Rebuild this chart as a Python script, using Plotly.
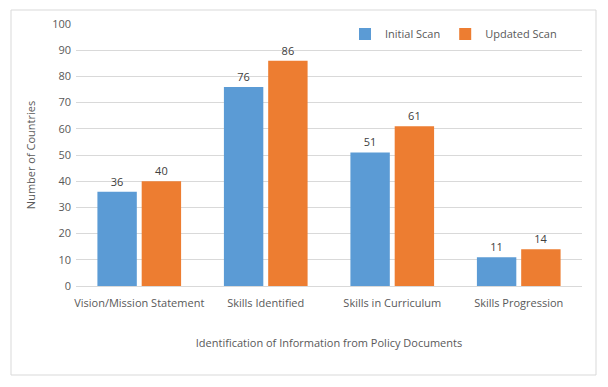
import plotly.graph_objects as go

categories = ["Vision/Mission Statement", "Skills Identified", "Skills in Curriculum", "Skills Progression"]
initial_scan = [36, 76, 51, 11]
updated_scan = [40, 86, 61, 14]
y_ticks = list(range(0, 101, 10))

FONT = "Open Sans"
W, H = 608, 387
L, R, T, B = 76, 26, 24, 101
pw, ph = W - L - R, H - T - B

def px2x(px):
    return (px - L) / pw

def py2y(py):
    return (H - B - py) / ph

fig = go.Figure()
fig.add_trace(go.Bar(name="Initial Scan", x=categories, y=initial_scan,
                     marker=dict(color="#5B9BD5", line=dict(width=0)),
                     text=initial_scan, textposition="outside",
                     textfont=dict(size=11, color="#404040", family=FONT), cliponaxis=False))
fig.add_trace(go.Bar(name="Updated Scan", x=categories, y=updated_scan,
                     marker=dict(color="#ED7D31", line=dict(width=0)),
                     text=updated_scan, textposition="outside",
                     textfont=dict(size=11, color="#404040", family=FONT), cliponaxis=False))

fig.update_layout(
    width=W, height=H,
    margin=dict(l=L, r=R, t=T, b=B, autoexpand=False),
    paper_bgcolor="white", plot_bgcolor="white",
    font=dict(family=FONT, size=11, color="#595959"),
    barmode="group", bargap=0.3, bargroupgap=0.11,
    legend=dict(orientation="h", x=px2x(562), xanchor="right", y=py2y(34), yanchor="middle",
                font=dict(size=11, color="#595959"), bgcolor="rgba(0,0,0,0)",
                traceorder="normal"),
    xaxis=dict(showgrid=False, showline=True, linecolor="#d9d9d9", linewidth=1,
               ticks="", ticklabelstandoff=7, automargin=False,
               tickfont=dict(size=11, color="#595959"),
               title=dict(text="Identification of Information from Policy Documents",
                          font=dict(size=11, color="#595959"), standoff=30)),
    yaxis=dict(range=[0, 100], tickvals=y_ticks, showgrid=True, gridcolor="#d9d9d9",
               gridwidth=1, zeroline=False, showline=False, ticks="", ticklabelstandoff=4,
               automargin=False, tickfont=dict(size=11, color="#595959"),
               title=dict(text="Number of Countries", font=dict(size=11, color="#595959"), standoff=14)),
    shapes=[dict(type="rect", xref="paper", yref="paper",
                 x0=px2x(11), x1=px2x(596), y0=py2y(375), y1=py2y(10),
                 line=dict(color="#d9d9d9", width=1), fillcolor="rgba(0,0,0,0)", layer="below")],
)

fig.write_html("out.html", config={"displayModeBar": False},
               post_script="document.body.style.margin='0';document.body.style.overflow='hidden';")
